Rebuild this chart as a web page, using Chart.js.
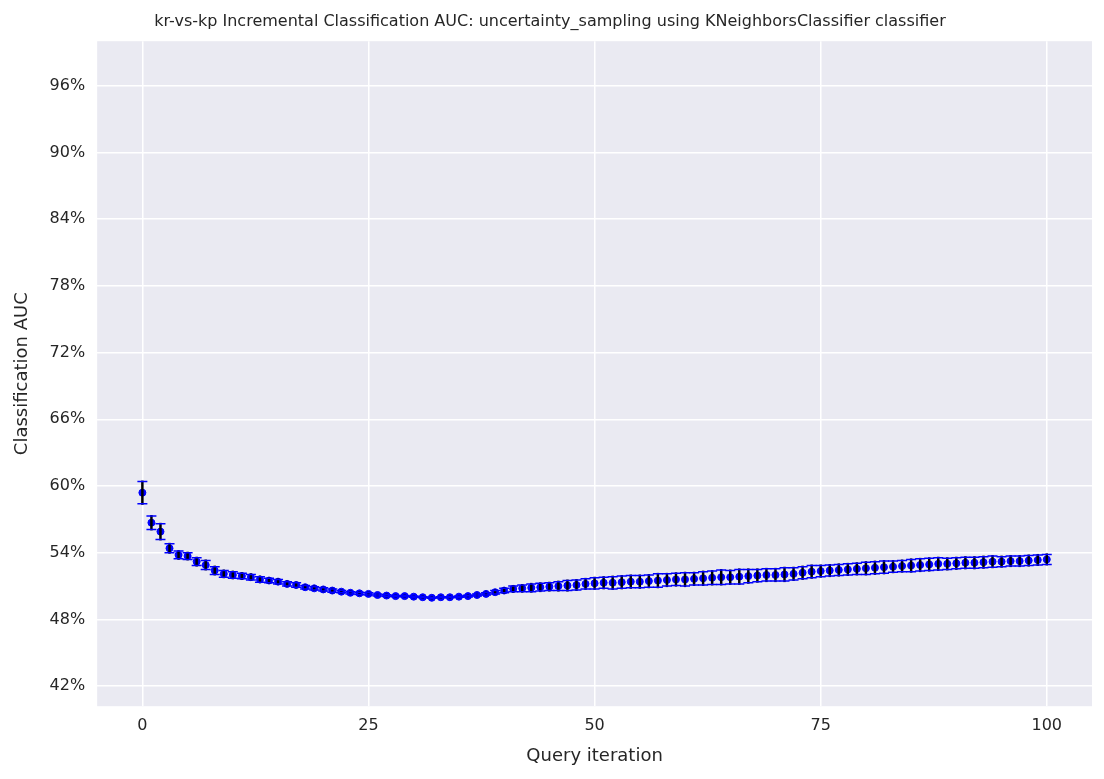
<!DOCTYPE html>
<html>
<head>
<meta charset="utf-8">
<script src="https://cdn.jsdelivr.net/npm/chart.js@4"></script>
<style>
  html, body { margin: 0; padding: 0; background: #fff; }
  #wrap { width: 1104px; height: 779px; }
</style>
</head>
<body>
<div id="wrap"><canvas id="aucChart" width="1104" height="779"></canvas></div>
<script>
// mean AUC (%) per query iteration 0..100
const auc = [
  59.4, 56.7, 55.9, 54.4, 53.8, 53.7, 53.2, 52.9, 52.4, 52.1,
  52.0, 51.9, 51.8, 51.6, 51.5, 51.4, 51.2, 51.1, 50.9, 50.8,
  50.7, 50.6, 50.5, 50.4, 50.35, 50.3, 50.2, 50.15, 50.1, 50.1,
  50.05, 50.0, 49.95, 50.0, 50.0, 50.05, 50.1, 50.2, 50.3, 50.45,
  50.6, 50.75, 50.8, 50.85, 50.9, 50.95, 51.0, 51.05, 51.1, 51.2,
  51.25, 51.3, 51.3, 51.35, 51.4, 51.4, 51.45, 51.5, 51.55, 51.6,
  51.6, 51.65, 51.7, 51.75, 51.8, 51.8, 51.85, 51.9, 51.95, 52.0,
  52.0, 52.05, 52.1, 52.2, 52.3, 52.35, 52.4, 52.45, 52.5, 52.55,
  52.6, 52.65, 52.7, 52.75, 52.8, 52.85, 52.9, 52.95, 53.0, 53.0,
  53.05, 53.1, 53.1, 53.15, 53.2, 53.2, 53.25, 53.25, 53.3, 53.35,
  53.4
];
// standard error (%) per iteration
const err = [
  1.0, 0.6, 0.7, 0.4, 0.35, 0.3, 0.35, 0.4, 0.35, 0.3,
  0.3, 0.25, 0.25, 0.25, 0.2, 0.2, 0.2, 0.2, 0.15, 0.15,
  0.15, 0.15, 0.1, 0.1, 0.1, 0.1, 0.08, 0.08, 0.05, 0.05,
  0.05, 0.05, 0.05, 0.05, 0.05, 0.05, 0.08, 0.1, 0.1, 0.15,
  0.2, 0.25, 0.3, 0.35, 0.35, 0.35, 0.4, 0.45, 0.45, 0.45,
  0.5, 0.5, 0.55, 0.55, 0.55, 0.55, 0.55, 0.6, 0.55, 0.55,
  0.6, 0.55, 0.6, 0.6, 0.65, 0.6, 0.65, 0.6, 0.55, 0.55,
  0.55, 0.6, 0.55, 0.55, 0.55, 0.5, 0.5, 0.5, 0.5, 0.5,
  0.55, 0.55, 0.55, 0.5, 0.5, 0.55, 0.55, 0.55, 0.55, 0.5,
  0.5, 0.5, 0.5, 0.5, 0.5, 0.45, 0.45, 0.45, 0.45, 0.45,
  0.45
];
const yTicks = [42, 48, 54, 60, 66, 72, 78, 84, 90, 96];
const xTicks = [0, 25, 50, 75, 100];

const points = auc.map((v, i) => ({ x: i, y: v }));

// draws the error bars through the chart scales, on top of the dots
const errorBars = {
  id: 'errorBars',
  afterDatasetsDraw(chart) {
    const { ctx, scales: { x, y } } = chart;
    ctx.save();
    auc.forEach((v, i) => {
      const px = x.getPixelForValue(i);
      const top = y.getPixelForValue(v + err[i]);
      const bot = y.getPixelForValue(v - err[i]);
      ctx.strokeStyle = '#000';
      ctx.lineWidth = 2.5;
      ctx.beginPath(); ctx.moveTo(px, top - 1); ctx.lineTo(px, bot + 1); ctx.stroke();
      ctx.strokeStyle = '#0000ff';
      ctx.lineWidth = 1.5;
      ctx.beginPath();
      ctx.moveTo(px - 5, top); ctx.lineTo(px + 5, top);
      ctx.moveTo(px - 5, bot); ctx.lineTo(px + 5, bot);
      ctx.stroke();
    });
    ctx.restore();
  }
};

const plotBg = {
  id: 'plotBg',
  beforeDraw(chart) {
    const { ctx, chartArea: a } = chart;
    ctx.save();
    ctx.fillStyle = '#eaeaf2';
    ctx.fillRect(a.left, a.top, a.right - a.left, a.bottom - a.top);
    ctx.restore();
  }
};

Chart.defaults.font.family = '"DejaVu Sans", Arial, sans-serif';
Chart.defaults.color = '#262626';

new Chart(document.getElementById('aucChart'), {
  type: 'scatter',
  data: {
    datasets: [{
      data: points,
      backgroundColor: '#0000ff',
      borderColor: '#0000ff',
      pointRadius: 3.5,
      pointHoverRadius: 3.5
    }]
  },
  options: {
    responsive: false,
    animation: false,
    layout: { padding: { left: 8, right: 12, top: 4, bottom: 8 } },
    plugins: {
      legend: { display: false },
      tooltip: { enabled: false },
      title: {
        display: true,
        text: 'kr-vs-kp Incremental Classification AUC: uncertainty_sampling using KNeighborsClassifier classifier',
        font: { size: 16, weight: 'normal' },
        color: '#262626',
        padding: { top: 8, bottom: 10 }
      }
    },
    scales: {
      x: {
        type: 'linear',
        min: -5, max: 105,
        afterBuildTicks: ax => { ax.ticks = xTicks.map(v => ({ value: v })); },
        grid: { color: '#ffffff', lineWidth: 1.5, drawTicks: false },
        border: { display: false },
        ticks: { font: { size: 16 }, padding: 10 },
        title: { display: true, text: 'Query iteration', font: { size: 18 }, padding: { top: 0 } }
      },
      y: {
        min: 40.2, max: 100,
        afterBuildTicks: ax => { ax.ticks = yTicks.map(v => ({ value: v })); },
        grid: { color: '#ffffff', lineWidth: 1.5, drawTicks: false },
        border: { display: false },
        ticks: { font: { size: 16 }, padding: 12, callback: v => v + '%' },
        title: { display: true, text: 'Classification AUC', font: { size: 18 } }
      }
    }
  },
  plugins: [plotBg, errorBars]
});
</script>
</body>
</html>
